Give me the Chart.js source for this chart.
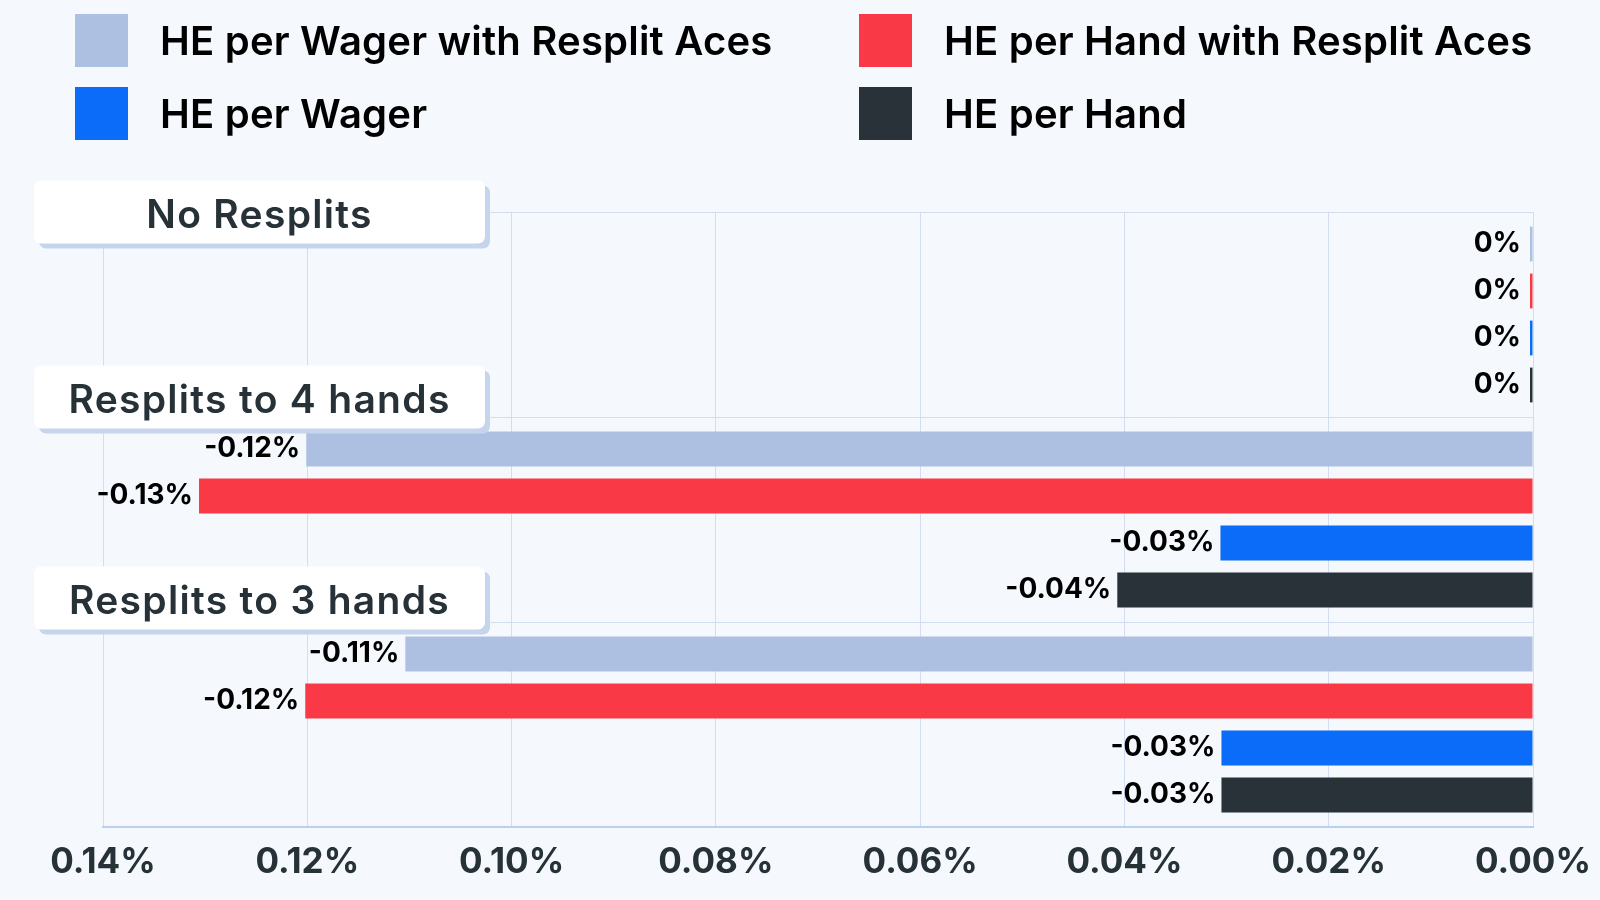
<!DOCTYPE html>
<html><head><meta charset="utf-8">
<script src="https://cdn.jsdelivr.net/npm/chart.js@4.4.1/dist/chart.umd.min.js"></script>
<style>
html,body{margin:0;padding:0;background:#f5f9fd;}
#wrap{position:relative;width:1600px;height:900px;background:#f5f9fd;}
canvas{position:absolute;left:0;top:0;}
#legend{position:absolute;left:0;top:0;width:1600px;height:160px;font-family:Inter,"Noto Sans",sans-serif;font-weight:600;font-size:40px;letter-spacing:0.2px;color:#000;}
.item{position:absolute;display:flex;align-items:center;height:53px;white-space:nowrap;}
.sw{width:53px;height:53px;margin-right:32px;flex:none;}
</style></head>
<body><div id="wrap"><canvas id="c" width="1600" height="900"></canvas><div id="legend"></div></div>
<script>
// ---- data (house edge, %) ----
const categories = ["No Resplits", "Resplits to 4 hands", "Resplits to 3 hands"];
const seriesNames = ["HE per Wager with Resplit Aces", "HE per Hand with Resplit Aces", "HE per Wager", "HE per Hand"];
const wagerResplitAces = [0, -0.1201, -0.1104];
const handResplitAces = [0, -0.1306, -0.1202];
const wagerValues = [0, -0.0306, -0.0305];
const handValues = [0, -0.0407, -0.0305];
const xTickValues = [-0.14, -0.12, -0.10, -0.08, -0.06, -0.04, -0.02, 0];

const seriesColors = ["#adc0e1", "#f93a46", "#0b6cfa", "#283238"];
const seriesData = [wagerResplitAces, handResplitAces, wagerValues, handValues];

// ---- legend (two columns) ----
const legendPos = [[75, 14], [859, 14], [75, 87], [859, 87]];
const legendEl = document.getElementById('legend');
seriesNames.forEach((n, i) => {
  const d = document.createElement('div');
  d.className = 'item';
  d.style.left = legendPos[i][0] + 'px';
  d.style.top = legendPos[i][1] + 'px';
  d.innerHTML = '<div class="sw" style="background:' + seriesColors[i] + '"></div><span>' + n + '</span>';
  legendEl.appendChild(d);
});

// ---- plugins ----
const barLabels = {
  id: 'barLabels',
  afterDatasetsDraw(chart) {
    const ctx = chart.ctx;
    ctx.save();
    ctx.font = '700 28px Inter';
    ctx.fillStyle = '#000';
    ctx.textAlign = 'right';
    ctx.textBaseline = 'middle';
    chart.data.datasets.forEach((ds, di) => {
      const meta = chart.getDatasetMeta(di);
      meta.data.forEach((el, i) => {
        const v = ds.data[i];
        const left = Math.min(el.x, el.base);
        const txt = v === 0 ? '0%' : v.toFixed(2) + '%';
        ctx.fillText(txt, left - (v === 0 ? 9 : 6), el.y);
      });
    });
    ctx.restore();
  }
};

function rr(ctx, x, y, w, h, r) {
  ctx.beginPath();
  ctx.moveTo(x + r, y);
  ctx.arcTo(x + w, y, x + w, y + h, r);
  ctx.arcTo(x + w, y + h, x, y + h, r);
  ctx.arcTo(x, y + h, x, y, r);
  ctx.arcTo(x, y, x + w, y, r);
  ctx.closePath();
}

const catBoxes = {
  id: 'catBoxes',
  afterDraw(chart) {
    const ys = chart.scales.y;
    const ctx = chart.ctx;
    const half = (ys.getPixelForValue(1) - ys.getPixelForValue(0)) / 2;
    const shift = [0, -20, -24];
    ctx.save();
    categories.forEach((c, i) => {
      const cy = ys.getPixelForValue(i) - half + shift[i];
      const x0 = 34, w = 451, h = 63, y0 = cy - h / 2;
      ctx.fillStyle = '#c6d4ec';
      rr(ctx, x0 + 5, y0 + 5, w, h, 7); ctx.fill();
      ctx.fillStyle = '#ffffff';
      rr(ctx, x0, y0, w, h, 7); ctx.fill();
      ctx.fillStyle = '#263238';
      ctx.font = '600 39px Inter';
      ctx.letterSpacing = '1.3px';
      ctx.textAlign = 'center';
      ctx.textBaseline = 'middle';
      ctx.fillText(c, x0 + w / 2, cy + 4);
    });
    ctx.restore();
  }
};

// ---- chart ----
new Chart(document.getElementById('c'), {
  type: 'bar',
  data: {
    labels: categories,
    datasets: seriesNames.map((n, i) => ({
      label: n,
      data: seriesData[i],
      backgroundColor: seriesColors[i],
      borderWidth: 0,
      minBarLength: 3,
      categoryPercentage: 0.917,
      barPercentage: 0.74
    }))
  },
  options: {
    responsive: false,
    animation: false,
    indexAxis: 'y',
    layout: { padding: { left: 103, right: 67, top: 212, bottom: 0 } },
    plugins: { legend: { display: false }, tooltip: { enabled: false } },
    scales: {
      x: {
        min: -0.14, max: 0,
        afterBuildTicks(s) { s.ticks = xTickValues.map(v => ({ value: v })); },
        afterFit(s) { s.height = 73; s.paddingLeft = 0; s.paddingRight = 0; },
        ticks: {
          callback: v => Math.abs(v).toFixed(2) + '%',
          font: { family: 'Inter', size: 35, weight: '700' },
          color: '#263238',
          padding: 14,
          maxRotation: 0,
          autoSkip: false
        },
        grid: { color: '#d2ddef', drawTicks: false, lineWidth: 1 },
        border: { color: '#bccfee', width: 2 }
      },
      y: {
        ticks: { display: false },
        afterFit(s) { s.width = 0; },
        grid: { color: '#d2ddef', drawTicks: false, offset: true },
        border: { display: false }
      }
    }
  },
  plugins: [barLabels, catBoxes]
});
</script>
</body></html>
